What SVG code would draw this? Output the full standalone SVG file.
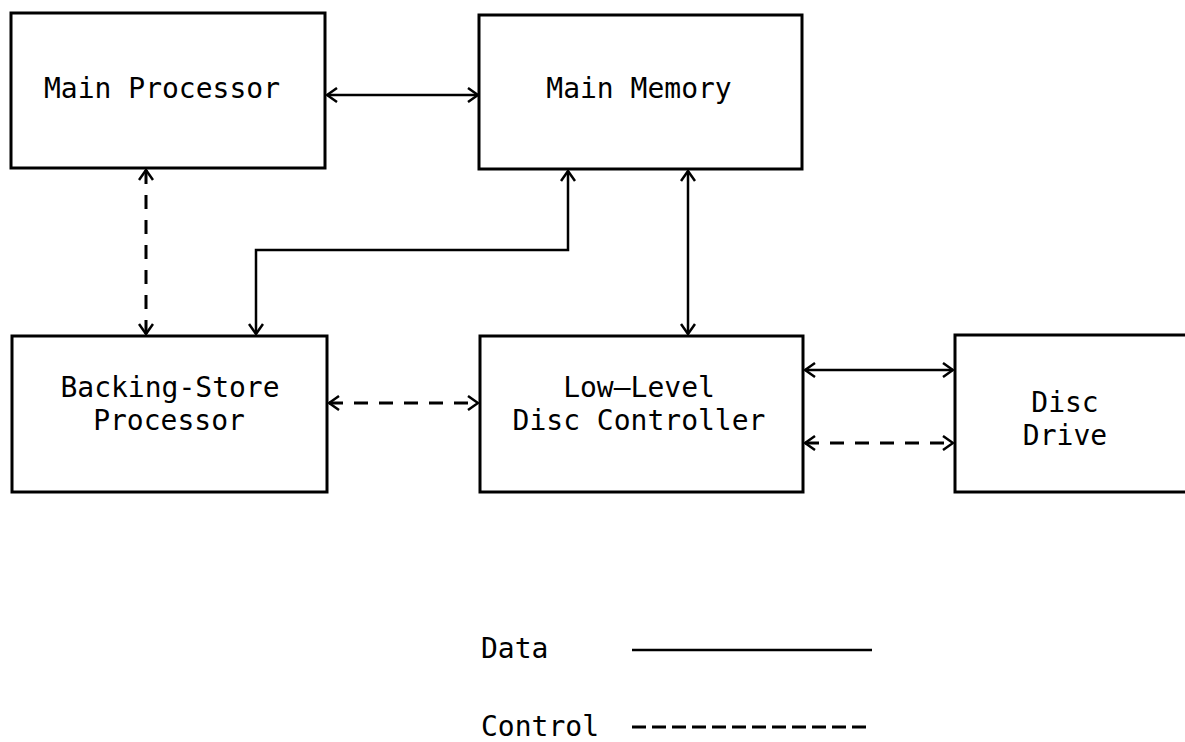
<svg xmlns="http://www.w3.org/2000/svg" width="1185" height="742" viewBox="0 0 1185 742">
  <style>
    .box { fill: #ffffff; stroke: #000000; stroke-width: 3; }
    .lbl { font-family: "DejaVu Sans Mono", "Liberation Mono", monospace; font-size: 28px; fill: #000000; text-anchor: middle; }
    .leg { font-family: "DejaVu Sans Mono", "Liberation Mono", monospace; font-size: 28px; fill: #000000; }
    .data { fill: none; stroke: #000000; stroke-width: 2.5; }
    .ctrl { fill: none; stroke: #000000; stroke-width: 3; stroke-dasharray: 14 11; }
  </style>
  <defs>
    <marker id="arr" viewBox="0 0 12 16" refX="11" refY="8" markerWidth="12" markerHeight="16" markerUnits="userSpaceOnUse" orient="auto-start-reverse">
      <path d="M1,1 L11,8 L1,15" fill="none" stroke="#000000" stroke-width="2.5"/>
    </marker>
  </defs>
  <rect width="1185" height="742" fill="#ffffff"/>

  <g id="main-processor">
    <rect class="box" x="11" y="13" width="314" height="155"/>
    <text class="lbl" x="162" y="98">Main Processor</text>
  </g>
  <g id="main-memory">
    <rect class="box" x="479" y="15" width="323" height="154"/>
    <text class="lbl" x="639" y="98">Main Memory</text>
  </g>
  <g id="backing-store-processor">
    <rect class="box" x="12" y="336" width="315" height="156"/>
    <text class="lbl" x="170" y="397">Backing-Store</text>
    <text class="lbl" x="169" y="430">Processor</text>
  </g>
  <g id="low-level-disc-controller">
    <rect class="box" x="480" y="336" width="323" height="156"/>
    <text class="lbl" x="639" y="397">Low–Level</text>
    <text class="lbl" x="639" y="430">Disc Controller</text>
  </g>
  <g id="disc-drive">
    <rect class="box" x="955" y="335" width="250" height="157"/>
    <text class="lbl" x="1065" y="412">Disc</text>
    <text class="lbl" x="1065" y="445">Drive</text>
  </g>

  <g id="connectors">
    <line class="data" x1="327" y1="95" x2="478" y2="95" marker-start="url(#arr)" marker-end="url(#arr)"/>
    <line class="ctrl" x1="146" y1="170" x2="146" y2="334" marker-start="url(#arr)" marker-end="url(#arr)"/>
    <polyline class="data" points="568,171 568,250 256,250 256,334" marker-start="url(#arr)" marker-end="url(#arr)"/>
    <line class="data" x1="688" y1="171" x2="688" y2="334" marker-start="url(#arr)" marker-end="url(#arr)"/>
    <line class="ctrl" x1="329" y1="403" x2="478" y2="403" marker-start="url(#arr)" marker-end="url(#arr)"/>
    <line class="data" x1="805" y1="370" x2="953" y2="370" marker-start="url(#arr)" marker-end="url(#arr)"/>
    <line class="ctrl" x1="805" y1="443" x2="953" y2="443" marker-start="url(#arr)" marker-end="url(#arr)"/>
  </g>

  <g id="legend">
    <text class="leg" x="481" y="658">Data</text>
    <line class="data" x1="632" y1="650" x2="872" y2="650" stroke-width="3"/>
    <text class="leg" x="481" y="736">Control</text>
    <line x1="632" y1="727" x2="872" y2="727" stroke="#000000" stroke-width="3" stroke-dasharray="14 6"/>
  </g>
</svg>
